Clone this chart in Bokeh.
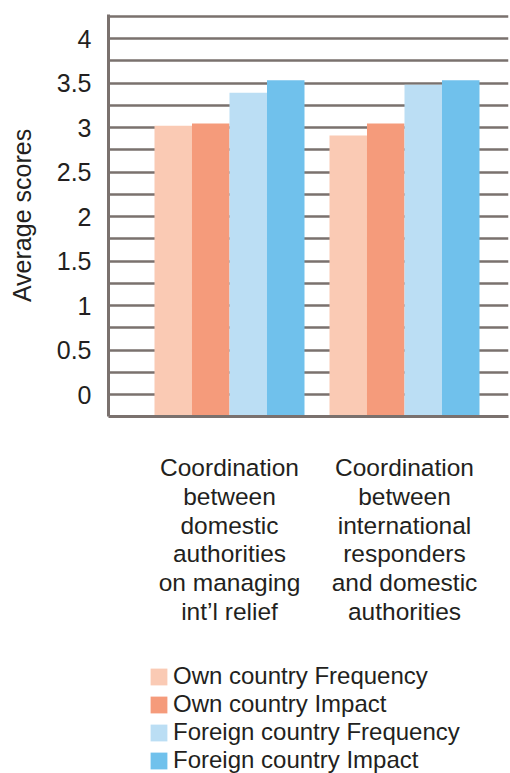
from bokeh.plotting import figure
from bokeh.models import Range1d, FixedTicker, Legend, LegendItem
from bokeh.layouts import column
from bokeh.core.properties import value
from bokeh.embed import file_html
from bokeh.resources import INLINE

# Survey results: average scores per coordination topic
groups = [
    "Coordination\nbetween\ndomestic\nauthorities\non managing\nint\u2019l relief",
    "Coordination\nbetween\ninternational\nresponders\nand domestic\nauthorities",
]
series = [
    "Own country Frequency",
    "Own country Impact",
    "Foreign country Frequency",
    "Foreign country Impact",
]
own_frequency = [3.02, 2.91]
own_impact = [3.045, 3.045]
foreign_frequency = [3.39, 3.48]
foreign_impact = [3.53, 3.53]
colors = ["#facab4", "#f59b7b", "#bbdef4", "#70c1ec"]
y_ticks = [0, 0.5, 1, 1.5, 2, 2.5, 3, 3.5, 4]
y_minor = [0.25, 0.75, 1.25, 1.75, 2.25, 2.75, 3.25, 3.75, 4.25]

FONT = "Liberation Sans"
FS = "25px"
TEXT = "#231f20"
RULE = "#7a716e"

y_start, y_end = -0.247, 4.27
x_range = Range1d(-0.6914, 1.5943)

# ---- bar chart -------------------------------------------------------------
p = figure(
    width=510, height=420,
    x_range=x_range, y_range=Range1d(y_start, y_end),
    output_backend="svg", toolbar_location=None,
    min_border_top=14, min_border_left=108, min_border_right=2, min_border_bottom=4,
)
p.outline_line_color = None
p.background_fill_color = "white"
p.border_fill_color = "white"

bar_w = 0.2143
values = [own_frequency, own_impact, foreign_frequency, foreign_impact]
for i, (vals, col) in enumerate(zip(values, colors)):
    xs = [g + (i - 1.5) * bar_w for g in range(len(groups))]
    p.vbar(x=xs, top=vals, bottom=y_start, width=bar_w,
           fill_color=col, line_color=None)

# grid: lines every 0.25 from 0 up to the top edge
p.xgrid.visible = False
p.ygrid.ticker = FixedTicker(ticks=y_ticks, minor_ticks=y_minor)
p.ygrid.grid_line_color = RULE
p.ygrid.grid_line_width = 2.6
p.ygrid.minor_grid_line_color = RULE
p.ygrid.minor_grid_line_width = 2.6

ya = p.yaxis[0]
ya.ticker = FixedTicker(ticks=y_ticks, minor_ticks=y_minor)
ya.major_label_overrides = {0: "0", 1: "1", 2: "2", 3: "3", 4: "4"}
ya.axis_label = "Average scores"
ya.axis_label_text_font = FONT
ya.axis_label_text_font_size = FS
ya.axis_label_text_font_style = "normal"
ya.axis_label_text_color = TEXT
ya.axis_label_standoff = 18
ya.major_label_text_font = FONT
ya.major_label_text_font_size = FS
ya.major_label_text_color = TEXT
ya.major_label_text_align = "center"
ya.major_label_standoff = 17
ya.major_tick_out = 0
ya.major_tick_in = 0
ya.minor_tick_out = 0
ya.minor_tick_in = 0
ya.axis_line_color = RULE
ya.axis_line_width = 3

xa = p.xaxis[0]
xa.ticker = FixedTicker(ticks=[])
xa.major_label_text_font_size = "0px"
xa.major_label_standoff = 0
xa.major_tick_out = 0
xa.major_tick_in = 0
xa.minor_tick_out = 0
xa.minor_tick_in = 0
xa.axis_line_color = RULE
xa.axis_line_width = 3

# ---- category labels and legend ---------------------------------------------
q = figure(
    width=510, height=353,
    x_range=x_range, y_range=Range1d(0, 353),
    output_backend="svg", toolbar_location=None,
    min_border_top=0, min_border_left=108, min_border_right=2, min_border_bottom=0,
)
q.axis.visible = False
q.grid.visible = False
q.outline_line_color = None
q.border_fill_color = "white"

q.text(x=list(range(len(groups))), y=[234] * len(groups), text=groups,
       text_align="center", text_baseline="middle", text_line_height=1.06,
       text_font=value(FONT), text_font_size="24.5px", text_color=TEXT)

# legend swatches (no visible data of their own)
nan = float("nan")
swatches = [q.vbar(x=[nan], top=[nan], width=0.1, fill_color=c, line_color=None)
            for c in colors]
legend = Legend(
    items=[LegendItem(label=s, renderers=[r]) for s, r in zip(series, swatches)],
    location=(40, -1),
    orientation="vertical",
    label_text_font=FONT,
    label_text_font_size="24px",
    label_text_color=TEXT,
    glyph_width=21, glyph_height=21,
    label_standoff=4,
    spacing=0,
    padding=0, margin=0,
    border_line_color=None,
    background_fill_alpha=0,
)
q.add_layout(legend, "center")

layout = column(p, q, spacing=0)
open("out.html", "w").write(file_html(layout, INLINE))
